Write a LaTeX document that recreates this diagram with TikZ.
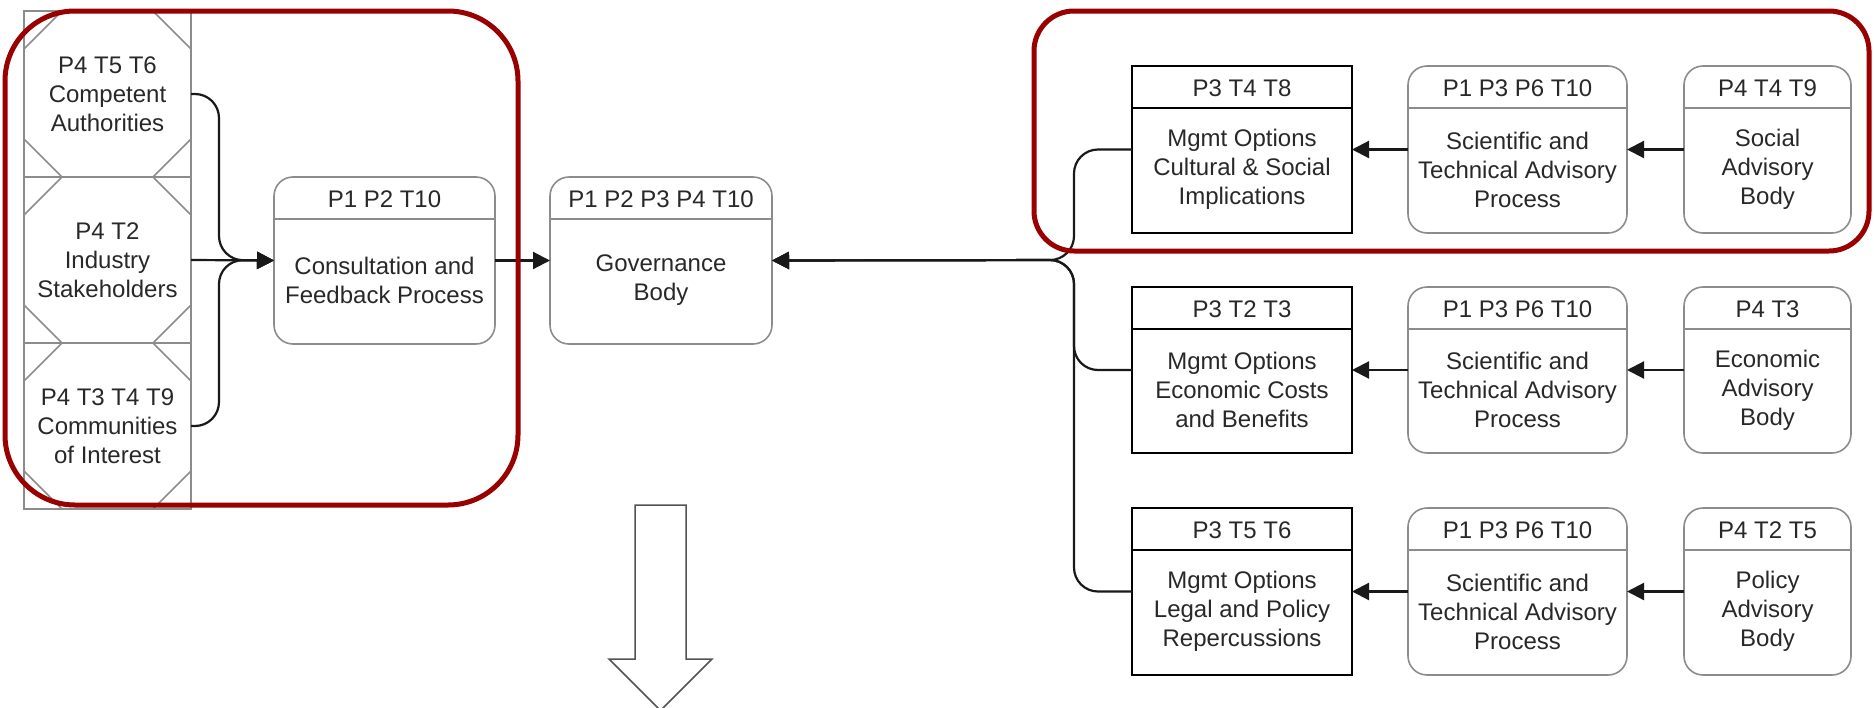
\documentclass[tikz,border=0pt]{standalone}
\usepackage{fontspec}
\setmainfont{Liberation Sans}
\usetikzlibrary{arrows.meta}
\definecolor{frame}{RGB}{153,0,0}
\definecolor{ink}{RGB}{40,40,40}
\definecolor{edge}{RGB}{140,140,140}
\tikzset{
  txt/.style={text=ink, font=\fontsize{24}{29}\selectfont, align=center, inner sep=0pt},
  softbox/.style={draw=edge, line width=1.6pt, rounded corners=19pt, inner sep=0pt, outer sep=0pt},
  hardbox/.style={draw=black, line width=2.2pt, inner sep=0pt, outer sep=0pt},
  softbox rule/.style={draw=edge, line width=1.6pt},
  hardbox rule/.style={draw=black, line width=2.2pt},
  link/.style={draw=black!90, line width=2.2pt, -{Triangle[length=17pt,width=17pt]}},
  cellbox/.style={txt, draw=edge, line width=2pt, outer sep=0pt,
    minimum width=167pt, minimum height=166pt,
    path picture={
      \draw[edge, line width=1.5pt]
        ([xshift=38pt]path picture bounding box.north west) -- ([yshift=-38pt]path picture bounding box.north west)
        ([xshift=-38pt]path picture bounding box.north east) -- ([yshift=-38pt]path picture bounding box.north east)
        ([xshift=38pt]path picture bounding box.south west) -- ([yshift=38pt]path picture bounding box.south west)
        ([xshift=-38pt]path picture bounding box.south east) -- ([yshift=38pt]path picture bounding box.south east);
    }},
  redframe/.style={draw=frame, line width=5pt},
  bigarrow/.style={draw=ink!80, line width=1.5pt, line join=miter, fill=white}
}
% box with a title strip: name, style, left, top, right, bottom, title, body
\newcommand\titledbox[8]{%
  \node[#2, minimum width={#5-#3}, minimum height={#6-#4}] (#1) at ({(#3+#5)/2},{(#4+#6)/2}) {};
  \draw[#2 rule] ([yshift=-42pt]#1.north west) -- ([yshift=-42pt]#1.north east);
  \node[txt] (#1-head) at ([yshift=-22pt]#1.north) {#7};
  \node[txt] (#1-body) at ([yshift={(#6-#4-42)/2+1}]#1.south) {#8};
}
\begin{document}
\begin{tikzpicture}[x=1pt, y=-1pt]
\useasboundingbox (0,0) rectangle (1874,707);

% stakeholder column
\node[cellbox] (cell1) at (107.5,94) {P4 T5 T6\\Competent\\Authorities};
\node[cellbox] (cell2) at (107.5,260) {P4 T2\\Industry\\Stakeholders};
\node[cellbox] (cell3) at (107.5,426) {P4 T3 T4 T9\\Communities\\of Interest};

% central process boxes
\titledbox{cons}{softbox}{274}{177}{495}{344}{P1 P2 T10}{Consultation and\\Feedback Process}
\titledbox{gov}{softbox}{550}{177}{772}{344}{P1 P2 P3 P4 T10}{Governance\\Body}

% advisory rows
\titledbox{m1}{hardbox}{1132}{66}{1352}{233}{P3 T4 T8}{Mgmt Options\\Cultural \& Social\\Implications}
\titledbox{s1}{softbox}{1408}{66}{1627}{233}{P1 P3 P6 T10}{Scientific and\\Technical Advisory\\Process}
\titledbox{a1}{softbox}{1684}{66}{1851}{233}{P4 T4 T9}{Social\\Advisory\\Body}

\titledbox{m2}{hardbox}{1132}{287}{1352}{453}{P3 T2 T3}{Mgmt Options\\Economic Costs\\and Benefits}
\titledbox{s2}{softbox}{1408}{287}{1627}{453}{P1 P3 P6 T10}{Scientific and\\Technical Advisory\\Process}
\titledbox{a2}{softbox}{1684}{287}{1851}{453}{P4 T3}{Economic\\Advisory\\Body}

\titledbox{m3}{hardbox}{1132}{508}{1352}{675}{P3 T5 T6}{Mgmt Options\\Legal and Policy\\Repercussions}
\titledbox{s3}{softbox}{1408}{508}{1627}{675}{P1 P3 P6 T10}{Scientific and\\Technical Advisory\\Process}
\titledbox{a3}{softbox}{1684}{508}{1851}{675}{P4 T2 T5}{Policy\\Advisory\\Body}

% connectors on the left
\coordinate (join-l) at (219,260);
\draw[link, rounded corners=24pt] (cell1.east) -| (join-l) -- (cons.west);
\draw[link] (cell2.east) -- (cons.west);
\draw[link, rounded corners=24pt] (cell3.east) -| (join-l) -- (cons.west);
\draw[link] (cons.east) -- (gov.west);

% connectors on the right
\coordinate (join-r) at (1074,260);
\draw[link, rounded corners=24pt] (m1.west) -| (join-r) -- (gov.east);
\draw[link, rounded corners=24pt] (m2.west) -| (join-r) -- (gov.east);
\draw[link, rounded corners=24pt] (m3.west) -| (join-r) -- (gov.east);
\foreach \r in {1,2,3} {
  \draw[link] (s\r.west) -- (m\r.east);
  \draw[link] (a\r.west) -- (s\r.east);
}

% downward block arrow
\draw[bigarrow] (635,505) -- (686,505) -- (686,659) -- (712,659) -- (660.5,710.5)
  -- (609,659) -- (635,659) -- cycle;

% highlight frames
\draw[redframe, rounded corners=70pt] (5,11) rectangle (518,505);
\draw[redframe, rounded corners=40pt] (1034,11) rectangle (1869,251);
\end{tikzpicture}
\end{document}
